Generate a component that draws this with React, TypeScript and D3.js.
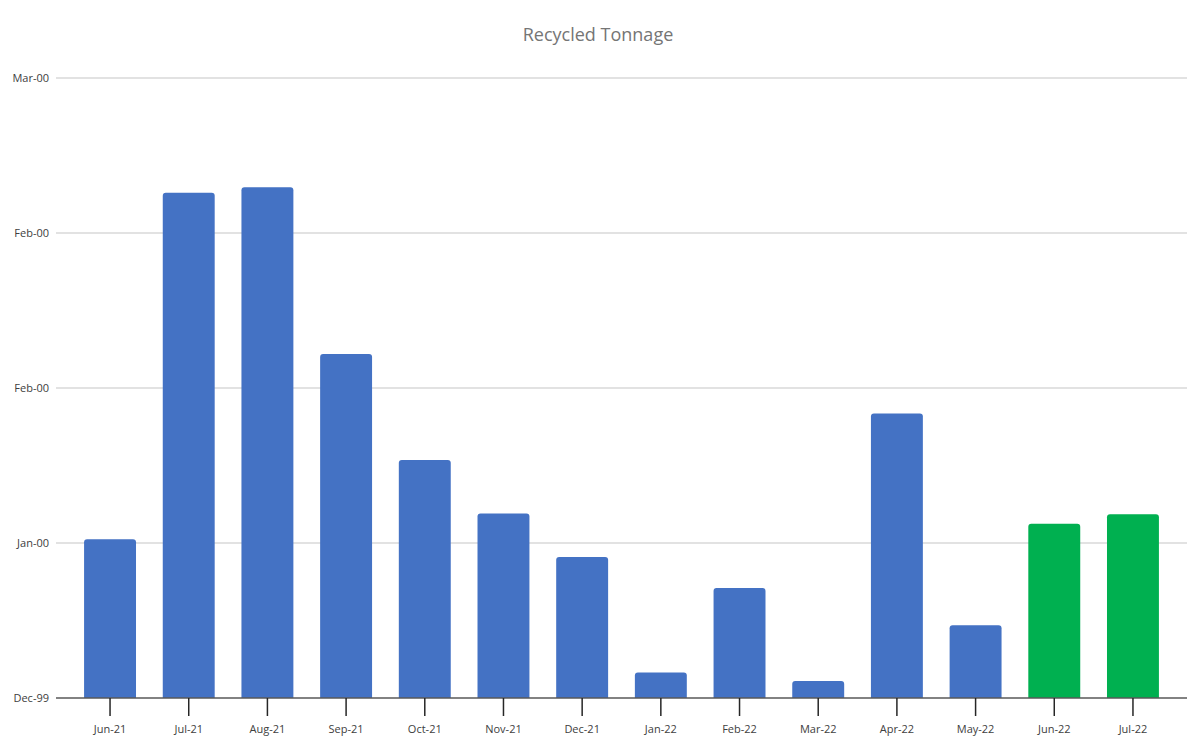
import React from 'react';
import * as d3 from 'd3';

// Month labels and tonnage values
const months = ['Jun-21', 'Jul-21', 'Aug-21', 'Sep-21', 'Oct-21', 'Nov-21', 'Dec-21', 'Jan-22', 'Feb-22', 'Mar-22', 'Apr-22', 'May-22', 'Jun-22', 'Jul-22'];
const tonnage = [20.5, 65.2, 65.9, 44.4, 30.7, 23.8, 18.2, 3.3, 14.2, 2.2, 36.7, 9.4, 22.5, 23.7];
const forecast = [false, false, false, false, false, false, false, false, false, false, false, false, true, true];
// the y axis is (mis)formatted as dates in the source sheet
const yTicks = [0, 20, 40, 60, 80];
const yTickLabels = ['Dec-99', 'Jan-00', 'Feb-00', 'Feb-00', 'Mar-00'];

const W = 1200;
const H = 746;
const margin = { top: 78, right: 13, bottom: 48, left: 56 };
const FONT = "'Open Sans', 'Noto Sans', sans-serif";

const App: React.FC = () => {
  const innerW = W - margin.left - margin.right;
  const innerH = H - margin.top - margin.bottom;

  const x = d3.scaleBand<string>()
    .domain(months)
    .range([14.7, innerW - 14.7])
    .paddingInner(0.34)
    .paddingOuter(0.17);

  const y = d3.scaleLinear().domain([0, 80]).range([innerH, 0]);

  const barPath = (x0: number, y0: number, w: number, h: number, r: number) => {
    const rr = Math.min(r, h / 2);
    return `M${x0},${y0 + h}V${y0 + rr}Q${x0},${y0} ${x0 + rr},${y0}H${x0 + w - rr}Q${x0 + w},${y0} ${x0 + w},${y0 + rr}V${y0 + h}Z`;
  };

  return (
    <svg width={W} height={H} style={{ position: 'absolute', left: 0, top: 0, background: '#fff' }} fontFamily={FONT}>
      <text x={598} y={41} textAnchor="middle" fontSize={18} fill="#757575">Recycled Tonnage</text>
      <g transform={`translate(${margin.left},${margin.top})`}>
        {yTicks.map((t, i) => (
          <g key={i} transform={`translate(0,${y(t)})`}>
            {i > 0 && <line x1={0} x2={innerW} stroke="#d9d9d9" strokeWidth={1.5} />}
            <text x={-7} dy="0.35em" textAnchor="end" fontSize={11} fill="#404040">{yTickLabels[i]}</text>
          </g>
        ))}
        {months.map((m, i) => {
          const bx = x(m) ?? 0;
          const by = y(tonnage[i]);
          return (
            <path
              key={m}
              d={barPath(bx, by, x.bandwidth(), innerH - by, 3)}
              fill={forecast[i] ? '#00b050' : '#4472c4'}
            />
          );
        })}
        <line x1={0} x2={innerW} y1={innerH} y2={innerH} stroke="#595959" strokeWidth={1.5} />
        {months.map(m => {
          const cx = (x(m) ?? 0) + x.bandwidth() / 2;
          return (
            <g key={m} transform={`translate(${cx},${innerH})`}>
              <line y1={0} y2={18} stroke="#262626" strokeWidth={1.5} />
              <text y={35} textAnchor="middle" fontSize={11} fill="#404040">{m}</text>
            </g>
          );
        })}
      </g>
    </svg>
  );
};

export default App;
